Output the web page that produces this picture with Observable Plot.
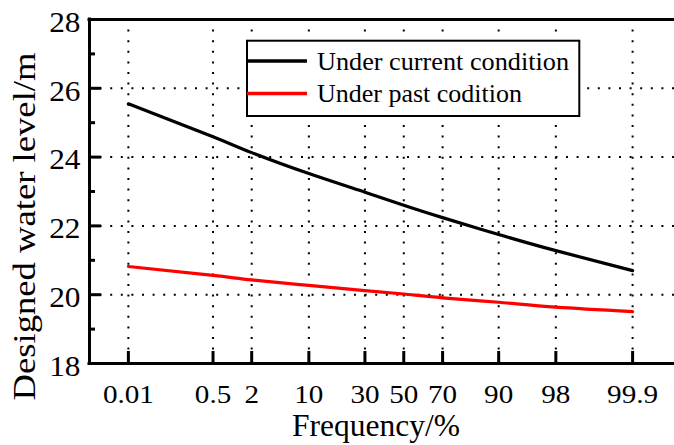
<!DOCTYPE html>
<html>
<head>
<meta charset="utf-8">
<script src="https://cdn.jsdelivr.net/npm/d3@7"></script>
<script src="https://cdn.jsdelivr.net/npm/@observablehq/plot@0.6"></script>
<style>
  html, body { margin: 0; padding: 0; background: white; }
  #chart { position: relative; width: 674px; height: 445px; overflow: hidden; }
  #legend { position: absolute; left: 0; top: 0; pointer-events: none; }
</style>
</head>
<body>
<div id="chart"></div>
<script>
// ---- data ----
const frequencies = [0.01, 0.5, 2, 10, 30, 50, 70, 90, 98, 99.9];
const tickLabels = ["0.01", "0.5", "2", "10", "30", "50", "70", "90", "98", "99.9"];
const currentLevels = [25.55, 24.59, 24.13, 23.52, 22.98, 22.60, 22.24, 21.75, 21.28, 20.70];
const pastLevels = [20.82, 20.56, 20.43, 20.27, 20.12, 20.02, 19.91, 19.78, 19.64, 19.51];
const seriesNames = ["Under current condition", "Under past codition"];
const seriesColors = ["#000000", "#ff0000"];
const yTicks = [18, 20, 22, 24, 26, 28];
const yMinorTicks = [19, 21, 23, 25, 27];
const yGrid = [20, 22, 24, 26];
const xTitle = "Frequency/%";
const yTitle = "Designed water level/m";

// normal probability (probit) transform for the x axis
function probit(p) {
  const a = [-3.969683028665376e+01, 2.209460984245205e+02, -2.759285104469687e+02, 1.383577518672690e+02, -3.066479806614716e+01, 2.506628277459239e+00];
  const b = [-5.447609879822406e+01, 1.615858368580409e+02, -1.556989798598866e+02, 6.680131188771972e+01, -1.328068155288572e+01];
  const c = [-7.784894002430293e-03, -3.223964580411365e-01, -2.400758277161838e+00, -2.549732539343734e+00, 4.374664141464968e+00, 2.938163982698783e+00];
  const d = [7.784695709041462e-03, 3.224671290700398e-01, 2.445134137142996e+00, 3.754408661907416e+00];
  const pl = 0.02425, ph = 1 - pl;
  let q, r;
  if (p < pl) {
    q = Math.sqrt(-2 * Math.log(p));
    return (((((c[0]*q+c[1])*q+c[2])*q+c[3])*q+c[4])*q+c[5]) / ((((d[0]*q+d[1])*q+d[2])*q+d[3])*q+1);
  }
  if (p > ph) {
    q = Math.sqrt(-2 * Math.log(1 - p));
    return -(((((c[0]*q+c[1])*q+c[2])*q+c[3])*q+c[4])*q+c[5]) / ((((d[0]*q+d[1])*q+d[2])*q+d[3])*q+1);
  }
  q = p - 0.5; r = q * q;
  return (((((a[0]*r+a[1])*r+a[2])*r+a[3])*r+a[4])*r+a[5])*q / (((((b[0]*r+b[1])*r+b[2])*r+b[3])*r+b[4])*r+1);
}
const zOf = f => probit(f / 100);

const rows = [];
frequencies.forEach((f, i) => {
  rows.push({series: seriesNames[0], f, v: currentLevels[i]});
  rows.push({series: seriesNames[1], f, v: pastLevels[i]});
});
const tickZ = frequencies.map(zOf);
const labelByZ = new Map(tickZ.map((z, i) => [z, tickLabels[i]]));
const xDomain = [-4.244, 3.656];

const W = 674, H = 445, ML = 89, MR = 0, MT = 19, MB = 82;
const frameW = W - ML - MR, frameH = H - MT - MB;
const dots = {stroke: "black", strokeOpacity: 1, strokeWidth: 2, strokeDasharray: "2,8.6"};

const plot = Plot.plot({
  width: W, height: H,
  marginLeft: ML, marginRight: MR, marginTop: MT, marginBottom: MB,
  style: {fontFamily: "'Liberation Serif', 'Times New Roman', serif", color: "black", background: "white", overflow: "hidden"},
  x: {type: "linear", domain: xDomain},
  y: {domain: [18, 28]},
  color: {domain: seriesNames, range: seriesColors},
  marks: [
    Plot.gridX(tickZ, dots),
    Plot.gridY(yGrid, dots),
    Plot.line(rows, {x: d => zOf(d.f), y: "v", z: "series", stroke: "series", strokeWidth: 3.2, curve: "natural"}),
    Plot.tickX(tickZ, {x: d => d, insetTop: frameH - 12, strokeWidth: 3}),
    Plot.tickY(yTicks, {y: d => d, insetRight: frameW - 12, strokeWidth: 3}),
    Plot.tickY(yMinorTicks, {y: d => d, insetRight: frameW - 6, strokeWidth: 3}),
    Plot.ruleY([18, 28], {strokeWidth: 3, strokeLinecap: "square"}),
    Plot.ruleX([xDomain[0]], {strokeWidth: 3, strokeLinecap: "square"}),
    Plot.axisX(tickZ, {tickSize: 0, tickPadding: 21, fontSize: 26, tickFormat: z => labelByZ.get(z), label: null}),
    Plot.axisY(yTicks, {tickSize: 0, tickPadding: 9, fontSize: 29, dy: 3, label: null}),
    Plot.text([xTitle], {frameAnchor: "bottom", textAnchor: "middle", lineAnchor: "middle", dy: 63, dx: -6, fontSize: 31, text: d => d}),
    Plot.text([yTitle], {frameAnchor: "left", textAnchor: "middle", lineAnchor: "middle", rotate: -90, dx: -65, dy: 35, fontSize: 32, text: d => d})
  ]
});
const chart = document.getElementById("chart");
chart.appendChild(plot);

// slight horizontal stretch of the serif glyphs, as in the reference
plot.querySelectorAll("text").forEach(t => {
  const s = t.textContent;
  const L = t.getComputedTextLength();
  let target;
  if (s === yTitle) target = 348;
  else if (s === xTitle) target = 168;
  else if (yTicks.map(String).includes(s)) target = L * 1.08;
  else target = L * 1.12;
  t.setAttribute("textLength", target.toFixed(1));
  t.setAttribute("lengthAdjust", "spacingAndGlyphs");
});

// legend (inside the plot area, top right)
const leg = d3.select(chart).append("svg").attr("id", "legend").attr("width", W).attr("height", H);
leg.append("rect").attr("x", 247).attr("y", 40.7).attr("width", 332.3).attr("height", 75.3)
  .attr("fill", "white").attr("stroke", "black").attr("stroke-width", 2);
const legRowsY = [61, 93.5];
const legText = [252, 205];
seriesNames.forEach((name, i) => {
  leg.append("line").attr("x1", 247).attr("x2", 307).attr("y1", legRowsY[i]).attr("y2", legRowsY[i])
    .attr("stroke", seriesColors[i]).attr("stroke-width", 3.5);
  leg.append("text").attr("x", 317).attr("y", legRowsY[i] + 8.5)
    .attr("font-family", "'Liberation Serif', 'Times New Roman', serif").attr("font-size", 25)
    .attr("fill", "black").attr("textLength", legText[i]).attr("lengthAdjust", "spacingAndGlyphs")
    .text(name);
});
</script>
</body>
</html>
